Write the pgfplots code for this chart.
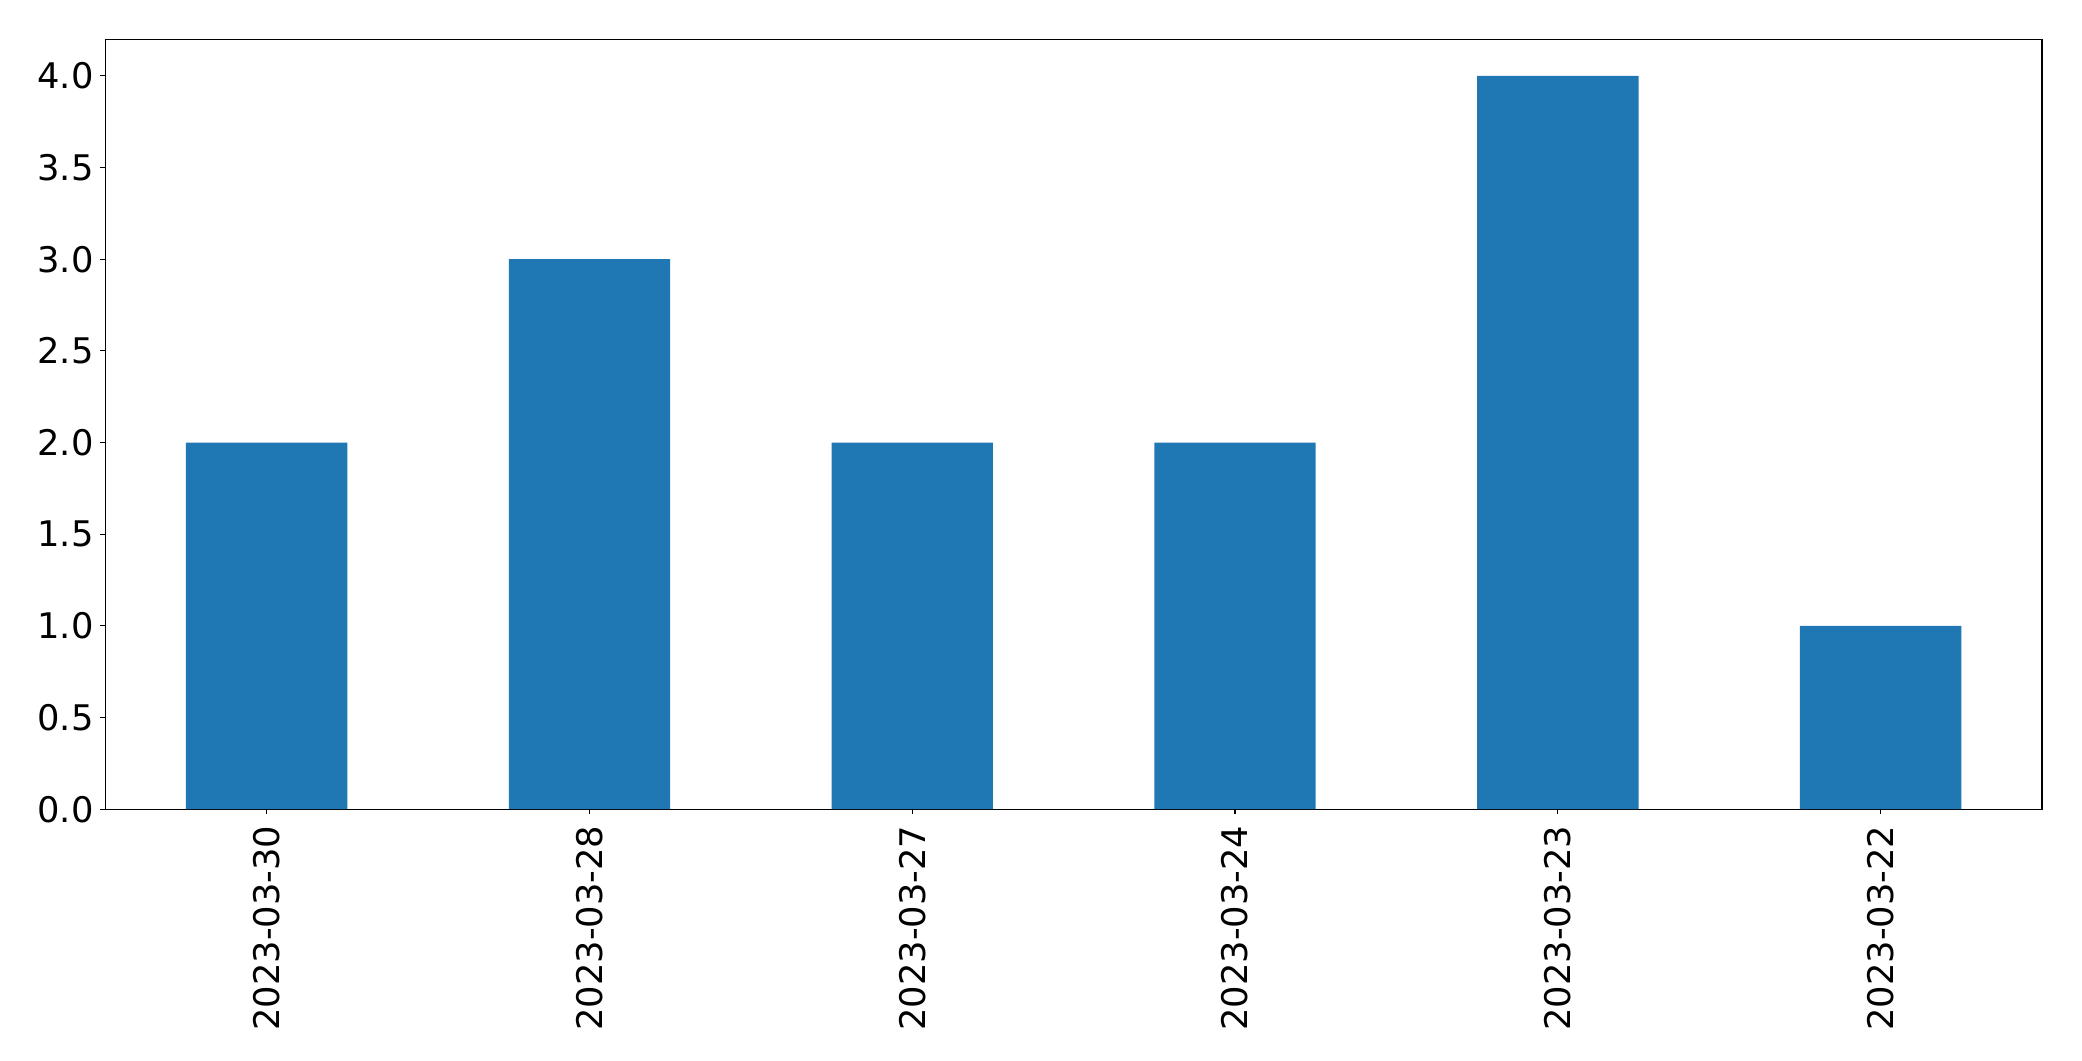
\documentclass[border=0pt]{standalone}
\usepackage{pgfplots}
\pgfplotsset{compat=1.18}
\usepackage{fontspec}
\setmainfont{DejaVu Sans}
\definecolor{mplblue}{HTML}{1F77B4}
\begin{document}
\begin{tikzpicture}
\path[use as bounding box] (-37.9pt,-90.6pt) rectangle (711.6pt,291.3pt);
\begin{axis}[
  at={(0,0)}, anchor=south west,
  scale only axis, width=697.2pt, height=277.2pt,
  xmin=-0.5, xmax=5.5, ymin=0, ymax=4.2,
  xtick={0,1,2,3,4,5},
  xticklabels={2023-03-30,2023-03-28,2023-03-27,2023-03-24,2023-03-23,2023-03-22},
  ytick={0,0.5,1,1.5,2,2.5,3,3.5,4},
  yticklabel style={/pgf/number format/fixed, /pgf/number format/fixed zerofill, /pgf/number format/precision=1},
  /pgf/number format/assume math mode=true,
  tick align=outside, major tick length=1.9pt,
  xtick pos=bottom, ytick pos=left,
  tick style={black, line width=0.4pt},
  x tick label style={rotate=90, anchor=east, inner sep=0pt, outer sep=0pt, xshift=0pt},
  xticklabel shift=4pt,
  yticklabel shift=-1.2pt,
  tick label style={font=\fontsize{12.7}{15}\selectfont},
  axis line style={line width=0.45pt, black},
]
\addplot[ybar, bar width=0.5, fill=mplblue, draw=none] coordinates {(0,2) (1,3) (2,2) (3,2) (4,4) (5,1)};
\end{axis}
\end{tikzpicture}
\end{document}
